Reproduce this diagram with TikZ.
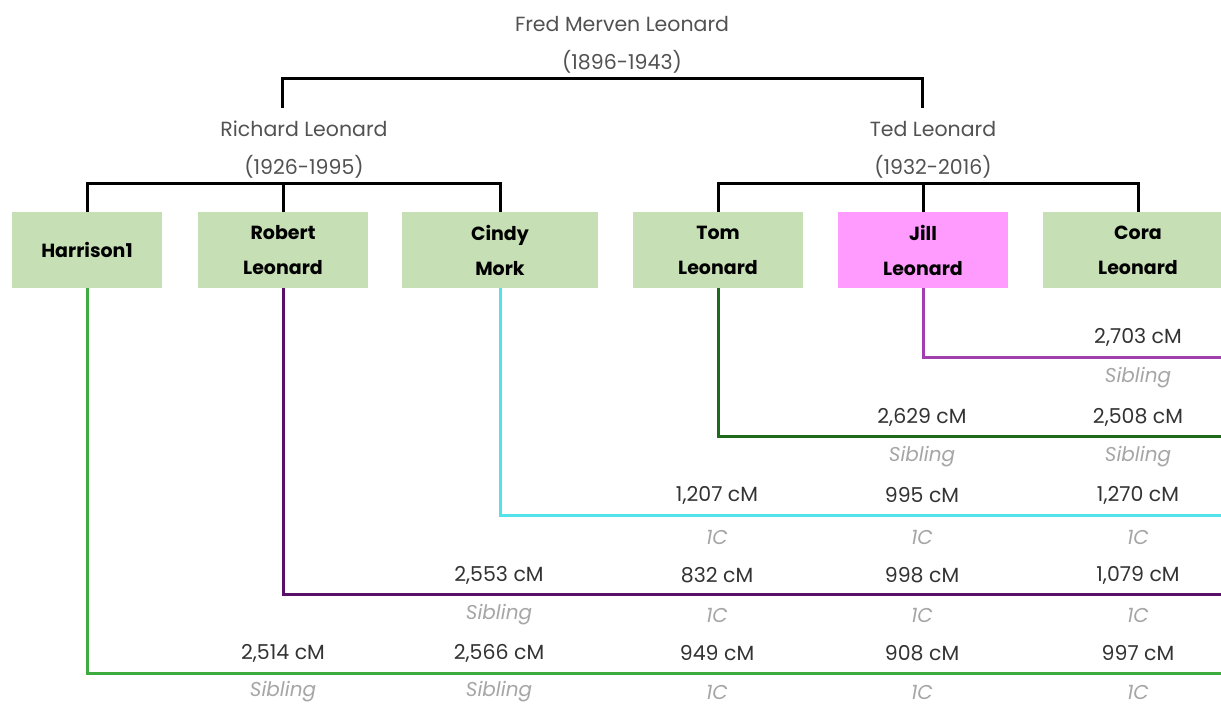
\documentclass[tikz,border=0pt]{standalone}
\usepackage{fontspec}
\setmainfont{Poppins}
\usetikzlibrary{positioning}
\definecolor{kidgreen}{HTML}{C6DFB5}
\definecolor{kidpink}{HTML}{FF9BFF}
\definecolor{jillpurple}{HTML}{A23FAE}
\definecolor{tomgreen}{HTML}{1D6A1D}
\definecolor{cindycyan}{HTML}{52E2EA}
\definecolor{robertpurple}{HTML}{5A0F68}
\definecolor{harrisongreen}{HTML}{3DAB3D}

\begin{document}
\begin{tikzpicture}[x=1pt,y=-1pt,
    person/.style={align=center,text=black!68,font=\fontsize{20.5}{38}\selectfont,inner xsep=0pt,inner ysep=5pt},
    kid/.style={fill=kidgreen,minimum height=76pt,align=center,font=\bfseries\fontsize{19}{35}\selectfont,inner sep=0pt},
    cmval/.style={text=black!80,font=\fontsize{20.5}{20}\selectfont,inner sep=0pt},
    rel/.style={text=black!35,font=\itshape\fontsize{20}{20}\selectfont,inner sep=0pt},
    fork/.style={line width=3pt},
    link/.style={line width=3pt}]
        \useasboundingbox[fill=white] (0,0) rectangle (1221,706);
        % grandparent and parents
        \node[person] (fred) at (622,45) {Fred Merven Leonard\\(1896-1943)};
        \node[person] (richard) at (304,150) {Richard Leonard\\(1926-1995)};
        \node[person] (ted) at (933,150) {Ted Leonard\\(1932-2016)};
        % children
        \node[kid,minimum width=150pt] (harrison) at (87,250) {Harrison1};
        \node[kid,minimum width=170pt] (robert) at (283,250) {Robert\\Leonard};
        \node[kid,minimum width=196pt] (cindy) at (500,250) {Cindy\\Mork};
        \node[kid,minimum width=170pt] (tom) at (718,250) {Tom\\Leonard};
        \node[kid,minimum width=170pt,fill=kidpink] (jill) at (923,250) {Jill\\Leonard};
        \node[kid,minimum width=190pt] (cora) at (1138,250) {Cora\\Leonard};
        % family lines
        \draw[fork] ([xshift=-22pt,yshift=8pt]richard.north) |- (fred.south) -| ([xshift=-11pt,yshift=8pt]ted.north);
        \draw[fork] (harrison.north) |- (richard.south) -| (cindy.north);
        \draw[fork] (robert.north) -- (robert.north |- richard.south);
        \draw[fork] (tom.north) |- (ted.south) -| (cora.north);
        \draw[fork] (jill.north) -- (jill.north |- ted.south);
        % match lines
        \coordinate (jillend) at (1230,357);
        \coordinate (tomend) at (1230,436);
        \coordinate (cindyend) at (1230,515);
        \coordinate (robertend) at (1230,594);
        \coordinate (harrisonend) at (1230,673);
        \draw[link,jillpurple] (jill.south) |- (jillend);
        \draw[link,tomgreen] (tom.south) |- (tomend);
        \draw[link,cindycyan] (cindy.south) |- (cindyend);
        \draw[link,robertpurple] (robert.south) |- (robertend);
        \draw[link,harrisongreen] (harrison.south) |- (harrisonend);
        % Jill
        \node[cmval] (jc5) at (1138,337) {2,703 cM};
        \node[rel] (jr5) at (1138,378) {Sibling};
        % Tom
        \node[cmval] (tc4) at (922,417) {2,629 cM};
        \node[cmval] (tc5) at (1138,417) {2,508 cM};
        \node[rel] (tr4) at (922,457) {Sibling};
        \node[rel] (tr5) at (1138,457) {Sibling};
        % Cindy
        \node[cmval] (cc3) at (717,495) {1,207 cM};
        \node[cmval] (cc4) at (922,495) {995 cM};
        \node[cmval] (cc5) at (1138,495) {1,270 cM};
        \node[rel] (cr3) at (717,537) {1C};
        \node[rel] (cr4) at (922,537) {1C};
        \node[rel] (cr5) at (1138,537) {1C};
        % Robert
        \node[cmval] (rc2) at (499,575) {2,553 cM};
        \node[cmval] (rc3) at (717,575) {832 cM};
        \node[cmval] (rc4) at (922,575) {998 cM};
        \node[cmval] (rc5) at (1138,575) {1,079 cM};
        \node[rel] (rr2) at (499,615) {Sibling};
        \node[rel] (rr3) at (717,615) {1C};
        \node[rel] (rr4) at (922,615) {1C};
        \node[rel] (rr5) at (1138,615) {1C};
        % Harrison1
        \node[cmval] (hc1) at (283,653) {2,514 cM};
        \node[cmval] (hc2) at (499,653) {2,566 cM};
        \node[cmval] (hc3) at (717,653) {949 cM};
        \node[cmval] (hc4) at (922,653) {908 cM};
        \node[cmval] (hc5) at (1138,653) {997 cM};
        \node[rel] (hr1) at (283,692) {Sibling};
        \node[rel] (hr2) at (499,692) {Sibling};
        \node[rel] (hr3) at (717,692) {1C};
        \node[rel] (hr4) at (922,692) {1C};
        \node[rel] (hr5) at (1138,692) {1C};
      \end{tikzpicture}
\end{document}
